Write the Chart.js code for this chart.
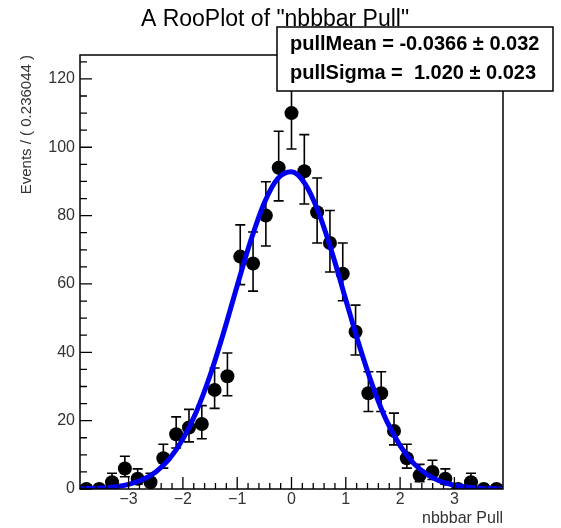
<!DOCTYPE html>
<html>
<head>
<meta charset="utf-8">
<script src="https://cdn.jsdelivr.net/npm/chart.js@4.4.1/dist/chart.umd.min.js"></script>
<style>
  html, body { margin: 0; padding: 0; background: #fff; }
  #plot { display: block; }
</style>
</head>
<body>
<canvas id="plot" width="561" height="528"></canvas>
<script>
// --- data (bin width 0.236044) ---
const binCenters = [-3.777, -3.541, -3.305, -3.069, -2.833, -2.597, -2.360, -2.124, -1.888, -1.652, -1.416,
                    -1.180, -0.944, -0.708, -0.472, -0.236, 0.000, 0.236, 0.472, 0.708, 0.944, 1.180,
                    1.416, 1.652, 1.888, 2.124, 2.360, 2.596, 2.833, 3.069, 3.305, 3.541, 3.777];
const counts = [0, 0, 2, 6, 3, 2, 9, 16, 18, 19, 29,
                33, 68, 66, 80, 94, 110, 93, 81, 72, 63, 46,
                28, 28, 17, 9, 4, 5, 3, 0, 2, 0, 0];
const errLow = [0, 0, 1.3, 2.4, 1.6, 1.3, 2.9, 4.0, 4.2, 4.3, 5.4,
                5.7, 8.2, 8.1, 8.9, 9.7, 10.5, 9.6, 9.0, 8.5, 7.9, 6.8,
                5.3, 5.3, 4.1, 2.9, 1.9, 2.2, 1.6, 0, 1.3, 0, 0];
const errHigh = [1.15, 1.15, 2.6, 3.6, 2.9, 2.6, 4.1, 5.1, 5.3, 5.4, 6.4,
                 6.8, 9.3, 9.2, 9.9, 10.7, 11.5, 10.7, 10.0, 9.5, 9.0, 7.8,
                 6.3, 6.3, 5.2, 4.1, 3.2, 3.4, 2.9, 1.15, 2.6, 1.15, 1.15];

// fitted gaussian curve
const fitX = [-3.9, -3.5, -3.25, -3.0, -2.75, -2.5, -2.25, -2.0, -1.75, -1.5, -1.25, -1.0, -0.75, -0.5, -0.25,
              0.0, 0.25, 0.5, 0.75, 1.0, 1.25, 1.5, 1.75, 2.0, 2.25, 2.5, 2.75, 3.0, 3.25, 3.5, 3.9];
const fitY = [0.07, 0.29, 0.65, 1.37, 2.7, 5.0, 8.8, 14.6, 22.7, 33.2, 45.8, 59.5, 72.7, 83.8, 90.9,
              92.8, 89.3, 80.9, 69.0, 55.4, 41.9, 29.9, 20.0, 12.7, 7.5, 4.2, 2.2, 1.1, 0.52, 0.23, 0.05];

const xTicks = [-3, -2, -1, 0, 1, 2, 3];
const yTicks = [0, 20, 40, 60, 80, 100, 120];
const plotTitle = 'A RooPlot of "nbbbar Pull"';
const statLines = ['pullMean = -0.0366 \u00b1 0.032', 'pullSigma =  1.020 \u00b1 0.023'];

const FONT = '"Liberation Sans", Helvetica, Arial, sans-serif';

// error bars, frame, inner ticks, title and stat box (ROOT style)
const rooPlugin = {
    id: 'rooStyle',
    beforeDatasetsDraw(chart) {
        const ctx = chart.ctx;
        const xs = chart.scales.x, ys = chart.scales.y;
        ctx.save();
        ctx.strokeStyle = '#000';
        ctx.lineWidth = 1.6;
        binCenters.forEach((bx, i) => {
            const px = xs.getPixelForValue(bx);
            const top = ys.getPixelForValue(counts[i] + errHigh[i]);
            const bot = ys.getPixelForValue(Math.max(0, counts[i] - errLow[i]));
            ctx.beginPath();
            ctx.moveTo(px, top); ctx.lineTo(px, bot);
            ctx.moveTo(px - 5, top); ctx.lineTo(px + 5, top);
            if (errLow[i] > 0) { ctx.moveTo(px - 5, bot); ctx.lineTo(px + 5, bot); }
            ctx.stroke();
        });
        ctx.restore();
    },
    afterDraw(chart) {
        const ctx = chart.ctx;
        const a = chart.chartArea;
        const xs = chart.scales.x, ys = chart.scales.y;
        ctx.save();
        ctx.strokeStyle = '#000';
        ctx.lineWidth = 1.5;
        ctx.strokeRect(a.left, a.top, a.right - a.left, a.bottom - a.top);

        // ticks pointing into the frame
        ctx.lineWidth = 1.3;
        ctx.beginPath();
        for (let i = -19; i <= 19; i++) {
            const v = i * 0.2;
            const px = xs.getPixelForValue(v);
            const len = (i % 5 === 0) ? 12 : 6;
            ctx.moveTo(px, a.bottom); ctx.lineTo(px, a.bottom - len);
        }
        for (let v = 0; v <= 125; v += 5) {
            const py = ys.getPixelForValue(v);
            const len = (v % 20 === 0) ? 12 : 7;
            ctx.moveTo(a.left, py); ctx.lineTo(a.left + len, py);
        }
        ctx.stroke();

        // title
        ctx.fillStyle = '#000';
        ctx.font = '23px ' + FONT;
        ctx.textAlign = 'center';
        ctx.textBaseline = 'alphabetic';
        ctx.fillText(plotTitle, 275, 26);

        // stat box
        ctx.fillStyle = '#fff';
        ctx.fillRect(277, 27, 276, 64);
        ctx.lineWidth = 1.5;
        ctx.strokeRect(277, 27, 276, 64);
        ctx.fillStyle = '#000';
        ctx.font = 'bold 20px ' + FONT;
        ctx.textAlign = 'left';
        ctx.fillText(statLines[0], 290, 50);
        ctx.fillText(statLines[1], 290, 79);
        ctx.restore();
    }
};

const chart = new Chart(document.getElementById('plot').getContext('2d'), {
    data: {
        datasets: [
            {
                type: 'line',
                data: fitX.map((x, i) => ({ x: x, y: fitY[i] })),
                borderColor: '#0000ee',
                borderWidth: 5,
                pointRadius: 0,
                cubicInterpolationMode: 'monotone',
                fill: false,
                order: 0
            },
            {
                type: 'scatter',
                data: binCenters.map((x, i) => ({ x: x, y: counts[i] })),
                backgroundColor: '#000',
                borderWidth: 0,
                pointRadius: 7,
                order: 1
            }
        ]
    },
    options: {
        responsive: false,
        animation: false,
        layout: { padding: { top: 55, right: 58, left: 0, bottom: 0 } },
        plugins: { legend: { display: false }, tooltip: { enabled: false } },
        scales: {
            x: {
                type: 'linear',
                min: -3.895,
                max: 3.895,
                afterBuildTicks: s => { s.ticks = xTicks.map(v => ({ value: v })); },
                afterFit: s => { s.height = 39; },
                grid: { display: false, drawTicks: false },
                border: { display: false },
                ticks: {
                    color: '#333',
                    padding: 1,
                    maxRotation: 0,
                    autoSkip: false,
                    font: { family: FONT, size: 16 },
                    callback: v => String(v).replace('-', '\u2212')
                },
                title: {
                    display: true, text: 'nbbbar Pull', align: 'end', color: '#333',
                    font: { family: FONT, size: 16 }, padding: { top: 0, bottom: 0 }
                }
            },
            y: {
                type: 'linear',
                min: 0,
                max: 127,
                afterBuildTicks: s => { s.ticks = yTicks.map(v => ({ value: v })); },
                afterFit: s => { s.width = 80; },
                grid: { display: false, drawTicks: false },
                border: { display: false },
                ticks: {
                    color: '#333',
                    padding: 5,
                    font: { family: FONT, size: 16 }
                },
                title: {
                    display: true, text: 'Events / ( 0.236044 )', align: 'end', color: '#333',
                    font: { family: FONT, size: 15 }, padding: { top: 18 }
                }
            }
        }
    },
    plugins: [rooPlugin]
});
</script>
</body>
</html>
